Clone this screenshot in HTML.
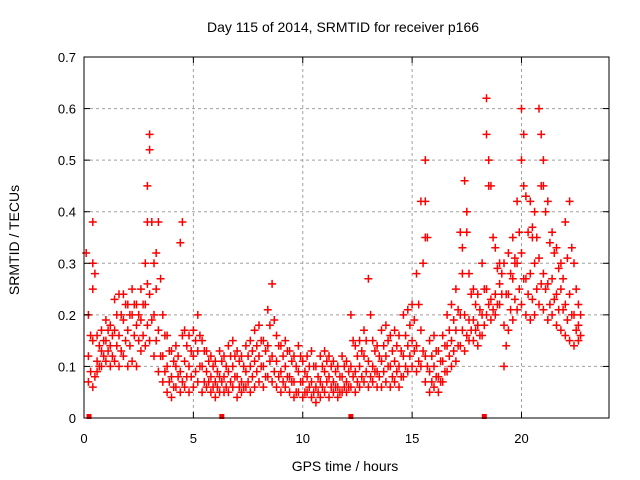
<!DOCTYPE html>
<html><head><meta charset="utf-8"><style>
body{margin:0;background:#fff;}
svg{display:block;font-family:"Liberation Sans",sans-serif;}
</style></head><body>
<svg id="chart" width="640" height="480">
<rect width="640" height="480" fill="#fff"/>
<g id="grid"></g><g id="marks"></g><g id="axes"></g>
<text x="343" y="32" font-size="14" text-anchor="middle">Day 115 of 2014, SRMTID for receiver p166</text>
<text x="345" y="471" font-size="14" text-anchor="middle">GPS time / hours</text>
<text transform="translate(19,240) rotate(-90)" font-size="14" text-anchor="middle">SRMTID / TECUs</text>
</svg>
<script>
const xTicks=[0,5,10,15,20];
const yTicks=[0,0.1,0.2,0.3,0.4,0.5,0.6,0.7];
const yTickLabels=["0","0.1","0.2","0.3","0.4","0.5","0.6","0.7"];
const t0=0.2, dt=0.2, t0b=0.3;
const lo=[0.07,0.06,0.09,0.1,0.11,0.1,0.11,0.1,0.12,0.1,0.11,0.1,0.13,0.14,0.15,0.12,0.09,0.07,0.05,0.04,0.06,0.05,0.06,0.05,0.06,0.07,0.05,0.06,0.05,0.04,0.05,0.05,0.05,0.06,0.04,0.05,0.06,0.05,0.06,0.07,0.06,0.08,0.07,0.06,0.05,0.06,0.05,0.04,0.05,0.04,0.05,0.04,0.03,0.04,0.05,0.04,0.05,0.04,0.05,0.05,0.06,0.05,0.06,0.07,0.06,0.07,0.06,0.06,0.07,0.06,0.07,0.06,0.08,0.09,0.1,0.09,0.1,0.07,0.05,0.06,0.05,0.07,0.09,0.1,0.11,0.14,0.13,0.15,0.15,0.14,0.16,0.2,0.19,0.2,0.22,0.1,0.17,0.19,0.21,0.22,0.2,0.19,0.2,0.22,0.21,0.19,0.2,0.18,0.17,0.16,0.15,0.14,0.15];
const mid=[0.12,0.15,0.11,0.13,0.15,0.14,0.17,0.16,0.19,0.17,0.2,0.18,0.19,0.22,0.24,0.2,0.17,0.12,0.1,0.08,0.1,0.09,0.11,0.1,0.12,0.13,0.1,0.09,0.08,0.07,0.08,0.08,0.09,0.1,0.08,0.07,0.09,0.1,0.11,0.12,0.1,0.14,0.12,0.11,0.09,0.1,0.08,0.07,0.09,0.07,0.08,0.07,0.06,0.07,0.09,0.08,0.07,0.06,0.08,0.07,0.1,0.09,0.1,0.12,0.11,0.1,0.09,0.11,0.12,0.1,0.11,0.1,0.12,0.14,0.15,0.14,0.17,0.12,0.09,0.1,0.08,0.11,0.14,0.15,0.17,0.2,0.2,0.19,0.19,0.18,0.2,0.25,0.23,0.24,0.26,0.18,0.24,0.27,0.3,0.32,0.27,0.28,0.3,0.31,0.28,0.26,0.27,0.24,0.25,0.22,0.24,0.2,0.18];
const hi=[0.2,0.38,0.16,0.17,0.19,0.18,0.23,0.24,0.24,0.22,0.25,0.22,0.25,0.3,0.52,0.3,0.38,0.2,0.16,0.13,0.14,0.34,0.17,0.16,0.17,0.2,0.15,0.13,0.12,0.11,0.13,0.12,0.14,0.15,0.13,0.12,0.14,0.15,0.17,0.18,0.15,0.21,0.26,0.16,0.14,0.15,0.13,0.12,0.14,0.11,0.12,0.13,0.1,0.12,0.13,0.12,0.11,0.1,0.12,0.11,0.2,0.14,0.15,0.17,0.27,0.15,0.14,0.17,0.18,0.16,0.17,0.16,0.2,0.21,0.22,0.28,0.42,0.5,0.15,0.16,0.13,0.16,0.2,0.22,0.25,0.36,0.46,0.28,0.25,0.24,0.3,0.62,0.45,0.33,0.3,0.3,0.32,0.35,0.42,0.6,0.43,0.42,0.4,0.6,0.5,0.42,0.36,0.33,0.3,0.38,0.42,0.3,0.22];
const lowerMid=[0.09,0.08,0.1,0.12,0.13,0.12,0.14,0.13,0.15,0.14,0.16,0.15,0.16,0.18,0.19,0.15,0.12,0.09,0.07,0.06,0.08,0.07,0.08,0.08,0.09,0.1,0.07,0.07,0.06,0.06,0.07,0.06,0.07,0.08,0.06,0.06,0.07,0.08,0.09,0.1,0.08,0.11,0.09,0.08,0.07,0.08,0.07,0.05,0.07,0.05,0.06,0.05,0.05,0.06,0.07,0.06,0.06,0.05,0.06,0.06,0.08,0.07,0.08,0.09,0.08,0.09,0.08,0.09,0.1,0.08,0.09,0.08,0.1,0.12,0.13,0.11,0.13,0.1,0.07,0.08,0.07,0.09,0.12,0.13,0.14,0.17,0.16,0.17,0.17,0.16,0.18,0.22,0.21,0.22,0.24,0.14,0.21,0.23,0.25,0.27,0.24,0.23,0.25,0.26,0.25,0.22,0.23,0.21,0.21,0.19,0.2,0.17,0.16];
const upperMid=[0.16,0.28,0.14,0.15,0.17,0.16,0.2,0.2,0.22,0.2,0.22,0.2,0.22,0.26,0.38,0.25,0.27,0.16,0.13,0.11,0.12,0.16,0.14,0.13,0.15,0.16,0.13,0.11,0.1,0.09,0.11,0.1,0.12,0.12,0.11,0.1,0.12,0.13,0.14,0.15,0.13,0.18,0.19,0.14,0.12,0.13,0.11,0.1,0.12,0.09,0.1,0.1,0.08,0.1,0.11,0.1,0.09,0.08,0.1,0.09,0.15,0.12,0.13,0.15,0.2,0.13,0.12,0.14,0.15,0.13,0.14,0.13,0.16,0.18,0.19,0.22,0.3,0.35,0.12,0.13,0.11,0.14,0.17,0.19,0.21,0.28,0.36,0.24,0.22,0.21,0.25,0.45,0.35,0.29,0.28,0.24,0.28,0.31,0.36,0.45,0.36,0.35,0.35,0.45,0.4,0.34,0.32,0.29,0.27,0.31,0.33,0.25,0.2];
const spikeT=[0.1,0.4,0.4,2.9,2.9,3.0,3.3,4.5,15.6,15.6,17.5,17.3,18.4,18.5,19.7,20.0,20.1,20.5,20.9,21.0];
const spikeV=[0.32,0.3,0.25,0.45,0.38,0.55,0.32,0.38,0.42,0.35,0.4,0.33,0.55,0.5,0.3,0.5,0.55,0.37,0.55,0.45];
const zeroT=[0.23,6.3,12.2,18.3];

const L=84,R=609,T=57,B=418;
const xs=v=>L+(v/24)*(R-L);
const ys=v=>B-(v/0.7)*(B-T);
const NS="http://www.w3.org/2000/svg";
function mk(tag,parent,attrs){const e=document.createElementNS(NS,tag);for(const k in attrs)e.setAttribute(k,attrs[k]);parent.appendChild(e);return e;}
const grid=document.getElementById('grid'),axes=document.getElementById('axes'),marks=document.getElementById('marks');
xTicks.forEach(v=>{
  if(v>0){const g=mk('line',grid,{x1:xs(v),x2:xs(v),y1:T,y2:B,stroke:'#a0a0a0','stroke-dasharray':'3,3'});
  
  }
  const t=mk('text',axes,{x:xs(v),y:443,'font-size':13,'text-anchor':'middle'});t.textContent=v;
  
  
  mk('line',axes,{x1:xs(v),x2:xs(v),y1:B,y2:B-6,stroke:'#000'});
  mk('line',axes,{x1:xs(v),x2:xs(v),y1:T,y2:T+6,stroke:'#000'});
});
yTicks.forEach((v,i)=>{
  if(v>0&&v<0.7){const g=mk('line',grid,{x1:L,x2:R,y1:ys(v),y2:ys(v),stroke:'#a0a0a0','stroke-dasharray':'3,3'});
  
  }
  const t=mk('text',axes,{x:76,y:ys(v)+5,'font-size':13,'text-anchor':'end'});t.textContent=yTickLabels[i];
  
  
  mk('line',axes,{x1:L,x2:L+6,y1:ys(v),y2:ys(v),stroke:'#000'});
  mk('line',axes,{x1:R,x2:R-6,y1:ys(v),y2:ys(v),stroke:'#000'});
});
const frame=mk('rect',axes,{x:L,y:T,width:R-L,height:B-T,fill:'none',stroke:'#000','stroke-width':1});


let d='';
function plus(t,v){const x=xs(t),y=ys(v);d+=`M${(x-4).toFixed(1)} ${y.toFixed(1)}h8M${x.toFixed(1)} ${(y-4).toFixed(1)}v8`;}
[lo,mid,hi].forEach(arr=>arr.forEach((v,i)=>plus(t0+i*dt,v)));
[lowerMid,upperMid].forEach(arr=>arr.forEach((v,i)=>plus(t0b+i*dt,v)));
spikeT.forEach((t,i)=>plus(t,spikeV[i]));
const p=mk('path',marks,{d:d,stroke:'#ff0000','stroke-width':1.5,fill:'none'});


zeroT.forEach(t=>{
  const r=mk('rect',marks,{x:xs(t)-2.5,y:B-4,width:5,height:5,fill:'#ff0000'});
  
  
});
</script>
</body></html>
